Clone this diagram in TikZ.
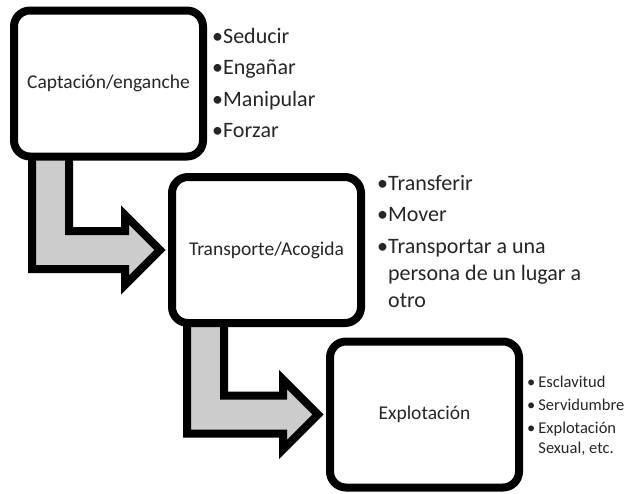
\documentclass[tikz,border=0pt]{standalone}
\usepackage{fontspec}
\setmainfont{Carlito}
\usepackage{tikz}
\usetikzlibrary{calc}
\usetikzlibrary{positioning}
\usetikzlibrary{backgrounds}

\begin{document}
\begin{tikzpicture}[x=1pt,y=-1pt,
  caja/.style={draw=black,line width=8pt,rounded corners=16pt,fill=white,
    minimum width=189pt,minimum height=146pt,text=black!85,
    font=\fontsize{19.5}{23}\selectfont},
  flecha/.style={draw=black,line width=8pt,fill=gray!40,line join=miter},
  lista/.style={anchor=base west,inner sep=0pt,text=black!85,
    font=\fontsize{22}{27}\selectfont},
  listachica/.style={lista,font=\fontsize{16.5}{20}\selectfont}]
  \useasboundingbox (0,0) rectangle (628,493);

% cajas
\node[caja] (capt) at (108.5,83.5) {Captación/enganche};
\node[caja] (trans) at (266.5,250) {Transporte/Acogida};
\node[caja] (explo) at (424.5,414.5) {Explotación};

% flechas en L (debajo de las cajas)
\begin{scope}[on background layer]
\draw[flecha] ($(capt.south west)+(22,-20)$) |- ($(trans.west)+(-43,19)$)
  -- ++(0,16) -- ($(trans.west)+(-8,0)$) -- ($(trans.west)+(-43,-35)$)
  -- ++(0,16) -| ($(capt.south west)+(59,-20)$) -- cycle;
\draw[flecha] ($(trans.south west)+(19,-20)$) |- ($(explo.west)+(-43,19)$)
  -- ++(0,16) -- ($(explo.west)+(-8,0)$) -- ($(explo.west)+(-43,-35)$)
  -- ++(0,16) -| ($(trans.south west)+(56,-20)$) -- cycle;
\end{scope}

% listas
\node[lista] (l1) at (212,43) {\begin{tabular}[t]{@{}l@{}l@{}}
  •&Seducir\\[4.5pt]
  •&Engañar\\[4.5pt]
  •&Manipular\\[4.5pt]
  •&Forzar
\end{tabular}};
\node[lista] (l2) at (377,190) {\begin{tabular}[t]{@{}l@{}l@{}}
  •&Transferir\\[4.5pt]
  •&Mover\\[4.5pt]
  •&Transportar a una\\
   &persona de un lugar a\\
   &otro
\end{tabular}};
\node[listachica] (l3) at (527,387) {\begin{tabular}[t]{@{}l@{\hspace{3pt}}l@{}}
  •&Esclavitud\\[3pt]
  •&Servidumbre\\[3pt]
  •&Explotación\\
   &Sexual, etc.
\end{tabular}};

\end{tikzpicture}
\end{document}
